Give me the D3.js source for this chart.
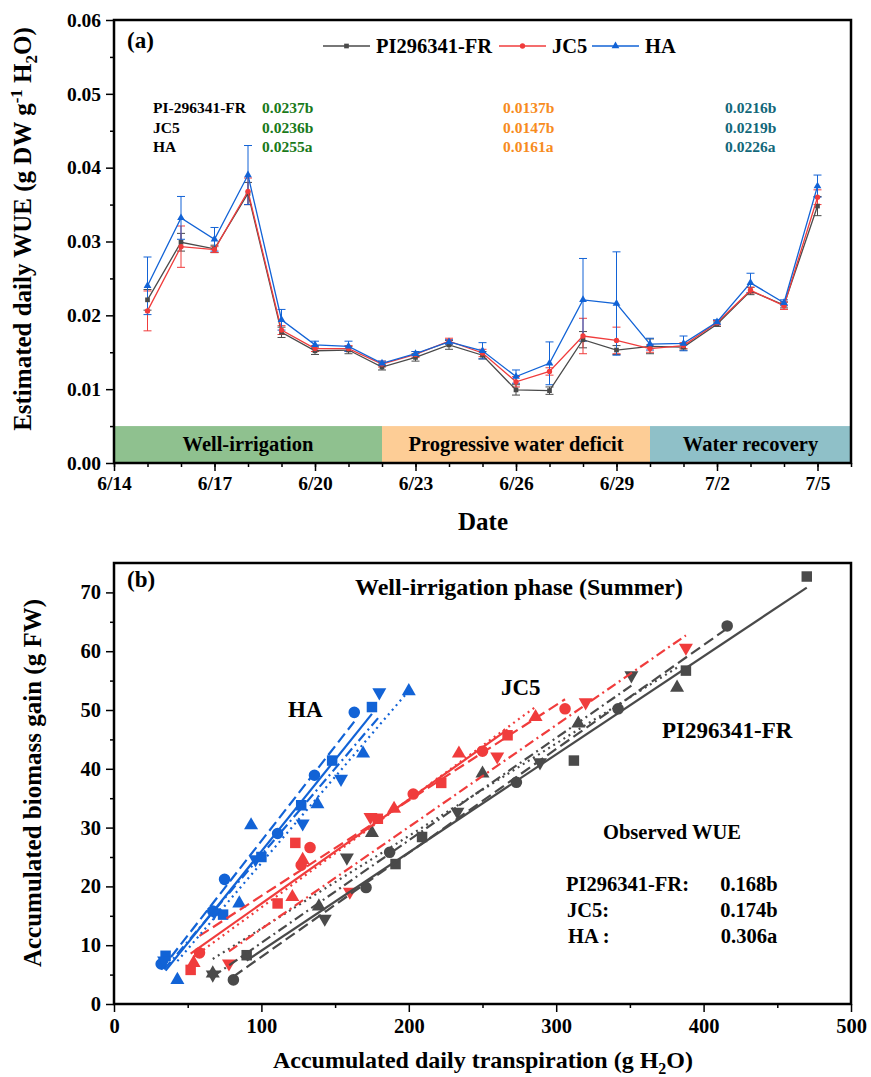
<!DOCTYPE html>
<html><head><meta charset="utf-8">
<script src="https://cdn.jsdelivr.net/npm/d3@7"></script>
<style>
body{margin:0;background:#fff}
svg{display:block}
text{font-family:"Liberation Serif","Times New Roman",serif;font-weight:bold;fill:#000}
</style>
</head><body>
<svg id="c" width="871" height="1077"></svg>
<script>
// ---------- Panel (a) data ----------
const dates = ["6/15","6/16","6/17","6/18","6/19","6/20","6/21","6/22","6/23","6/24","6/25","6/26","6/27","6/28","6/29","6/30","7/1","7/2","7/3","7/4","7/5"];
const piWUE  = [0.0221,0.0299,0.0290,0.0365,0.0177,0.0152,0.0153,0.0130,0.0143,0.0160,0.0146,0.0099,0.0098,0.0167,0.0153,0.0158,0.0157,0.0188,0.0233,0.0214,0.0348];
const jc5WUE = [0.0206,0.0293,0.0289,0.0368,0.0180,0.0155,0.0155,0.0134,0.0147,0.0165,0.0149,0.0110,0.0124,0.0172,0.0166,0.0155,0.0159,0.0190,0.0234,0.0213,0.0360];
const haWUE  = [0.0240,0.0332,0.0303,0.0390,0.0194,0.0160,0.0158,0.0135,0.0148,0.0164,0.0152,0.0117,0.0135,0.0221,0.0216,0.0161,0.0162,0.0191,0.0244,0.0217,0.0375];
const piErr  = [0.0014,0.0012,0.0005,0.0015,0.0007,0.0005,0.0005,0.0004,0.0005,0.0006,0.0005,0.0007,0.0005,0.0011,0.0006,0.0010,0.0004,0.0003,0.0005,0.0004,0.0013];
const jc5Err = [0.0027,0.0028,0.0004,0.0018,0.0006,0.0004,0.0004,0.0004,0.0004,0.0004,0.0005,0.0007,0.0005,0.0024,0.0018,0.0005,0.0004,0.0003,0.0004,0.0005,0.0010];
const haErr  = [0.0039,0.0029,0.0016,0.0040,0.0014,0.0005,0.0007,0.0003,0.0003,0.0003,0.0011,0.0009,0.0029,0.0056,0.0070,0.0008,0.0010,0.0003,0.0013,0.0004,0.0015];
const xTickLabelsA = ["6/14","6/17","6/20","6/23","6/26","6/29","7/2","7/5"];
const yTicksA = [0,0.01,0.02,0.03,0.04,0.05,0.06];
const phaseNames = ["Well-irrigation","Progressive water deficit","Water recovery"];
const phaseStart = ["6/14","6/22","6/30"];
const phaseEnd   = ["6/22","6/30","7/6"];
const phaseTop = 0.005;
const annotGenotypes = ["PI-296341-FR","JC5","HA"];
const annotWell     = ["0.0237b","0.0236b","0.0255a"];
const annotDeficit  = ["0.0137b","0.0147b","0.0161a"];
const annotRecovery = ["0.0216b","0.0219b","0.0226a"];
const legendNames = ["PI296341-FR","JC5","HA"];

// ---------- Panel (b) data (transpiration T, biomass B) ----------
const haSqT = [35,74,100,127,148,175],  haSqB = [8.2,15.2,25,33.8,41.4,50.5];
const haCiT = [32,67,75,111,136,163],   haCiB = [6.8,15.8,21.2,29,38.9,49.6];
const haUpT = [43,85,93,138,169,200],   haUpB = [4.1,17.1,30.4,34,42.6,53.2];
const haDnT = [34,68,96,128,154,180],   haDnB = [7.4,15.6,24.6,30.7,38.3,53];
const jc5SqT = [52,111,123,179,222,267], jc5SqB = [5.8,17.1,27.4,31.5,37.6,45.7];
const jc5CiT = [58,127,133,203,250,306], jc5CiB = [8.7,23.6,26.6,35.7,43,50.2];
const jc5UpT = [54,121,128,190,234,286], jc5UpB = [7,18.2,24.5,33.2,42.6,48.8];
const jc5DnT = [78,160,174,260,320,388], jc5DnB = [6.9,19.1,31.8,42.1,51.3,60.6];
const piSqT = [90,191,209,312,388,470],  piSqB = [8.3,23.8,28.4,41.4,56.7,72.7];
const piCiT = [81,171,187,273,342,416],  piCiB = [4.1,19.8,25.8,37.7,50.2,64.3];
const piUpT = [67,139,175,250,315,382],  piUpB = [5.2,16.6,29.1,39.2,47.7,53.8];
const piDnT = [67,143,158,233,289,351],  piDnB = [5.0,14.5,24.9,32.7,41.1,55.9];
const xTicksB = [0,100,200,300,400,500];
const yTicksB = [0,10,20,30,40,50,60,70];
const wueNames = ["PI296341-FR:","JC5:","HA :"];
const wueVals = ["0.168b","0.174b","0.306a"];

// ---------- styles ----------
const cGray = "#4a4a4a", cRed = "#f03c3c", cBlue = "#1263d6";
const svg = d3.select("#c");
const parseD = s => d3.utcParse("%Y/%m/%d")("2020/" + s);

// ================= Panel (a) =================
const xA = d3.scaleUtc().domain([parseD("6/14"), parseD("7/6")]).range([114, 851]);
const yA = d3.scaleLinear().domain([0, 0.06]).range([463, 20]);
const gA = svg.append("g");

// phase bands
const bandCols = ["#8fc18f","#fdcd96","#8fc0c8"];
phaseNames.forEach((n,i)=>{
  gA.append("rect").attr("x", xA(parseD(phaseStart[i]))).attr("y", yA(phaseTop))
    .attr("width", xA(parseD(phaseEnd[i])) - xA(parseD(phaseStart[i])))
    .attr("height", yA(0) - yA(phaseTop)).attr("fill", bandCols[i]);
  gA.append("text").attr("x", (xA(parseD(phaseStart[i])) + xA(parseD(phaseEnd[i])))/2)
    .attr("y", 451).attr("text-anchor","middle").attr("font-size", 20.5).text(n);
});

// axes
const majorA = xTickLabelsA.map(parseD);
const minorA = d3.utcDay.range(parseD("6/14"), parseD("7/7"));
gA.append("g").attr("transform","translate(0,463)")
  .call(d3.axisBottom(xA).tickValues(minorA).tickSize(4).tickFormat(""))
  .call(g=>g.select(".domain").remove());
gA.append("g").attr("transform","translate(0,463)")
  .call(d3.axisBottom(xA).tickValues(majorA).tickSize(8).tickPadding(5).tickFormat(d3.utcFormat("%-m/%-d")))
  .call(g=>g.selectAll("text").attr("font-size",19.5).style("font-family","Liberation Serif").style("font-weight","bold"))
  .call(g=>g.select(".domain").remove());
gA.append("g").attr("transform","translate(114,0)")
  .call(d3.axisLeft(yA).tickValues(d3.range(0.005,0.06,0.01)).tickSize(4).tickFormat(""))
  .call(g=>g.select(".domain").remove());
gA.append("g").attr("transform","translate(114,0)")
  .call(d3.axisLeft(yA).tickValues(yTicksA).tickSize(8).tickPadding(5).tickFormat(d3.format(".2f")))
  .call(g=>g.selectAll("text").attr("font-size",19.5).style("font-family","Liberation Serif").style("font-weight","bold"))
  .call(g=>g.select(".domain").remove());
gA.selectAll(".tick line").attr("stroke-width",1.5);
gA.append("rect").attr("x",114).attr("y",20).attr("width",737).attr("height",443)
  .attr("fill","none").attr("stroke","#000").attr("stroke-width",2.5);

// series
const seriesA = [
  {v: piWUE, e: piErr, c: cGray, sym: d3.symbolSquare, s: 22},
  {v: jc5WUE, e: jc5Err, c: cRed, sym: d3.symbolCircle, s: 22},
  {v: haWUE, e: haErr, c: cBlue, sym: d3.symbolTriangle, s: 26}
];
const dd = dates.map(parseD);
seriesA.forEach(S=>{
  const g = gA.append("g");
  dd.forEach((d,i)=>{
    const x = xA(d), y1 = yA(S.v[i]+S.e[i]), y0 = yA(S.v[i]-S.e[i]);
    g.append("line").attr("x1",x).attr("x2",x).attr("y1",y1).attr("y2",y0).attr("stroke",S.c).attr("stroke-width",1);
    [y1,y0].forEach(y=>g.append("line").attr("x1",x-4).attr("x2",x+4).attr("y1",y).attr("y2",y).attr("stroke",S.c).attr("stroke-width",1));
  });
});
seriesA.forEach(S=>{
  gA.append("path").datum(S.v).attr("fill","none").attr("stroke",S.c).attr("stroke-width",1.3)
    .attr("d", d3.line().x((v,i)=>xA(dd[i])).y(v=>yA(v)));
  gA.selectAll(null).data(S.v).enter().append("path")
    .attr("transform",(v,i)=>`translate(${xA(dd[i])},${yA(v)})`)
    .attr("d", d3.symbol().type(S.sym).size(S.s)).attr("fill",S.c);
});

// legend
const legX = [323, 499, 592];
legendNames.forEach((n,i)=>{
  const S = seriesA[i];
  gA.append("line").attr("x1",legX[i]).attr("x2",legX[i]+47).attr("y1",46).attr("y2",46).attr("stroke",S.c).attr("stroke-width",1.3);
  gA.append("path").attr("transform",`translate(${legX[i]+23.5},46)`).attr("d",d3.symbol().type(S.sym).size(S.s)).attr("fill",S.c);
  gA.append("text").attr("x",legX[i]+53).attr("y",53).attr("font-size",20.5).text(n);
});
gA.append("text").attr("x",127).attr("y",48).attr("font-size",23).text("(a)");

// annotations
const annRowsY = [113, 132.5, 152];
annotGenotypes.forEach((n,i)=>{
  gA.append("text").attr("x",153).attr("y",annRowsY[i]).attr("font-size",15.5).text(n);
  gA.append("text").attr("x",262).attr("y",annRowsY[i]).attr("font-size",15.5).style("fill","#1a7a1a").text(annotWell[i]);
  gA.append("text").attr("x",503).attr("y",annRowsY[i]).attr("font-size",15.5).style("fill","#f78c1e").text(annotDeficit[i]);
  gA.append("text").attr("x",725).attr("y",annRowsY[i]).attr("font-size",15.5).style("fill","#13687a").text(annotRecovery[i]);
});

// axis titles
const ytA = gA.append("text").attr("transform","translate(31,229) rotate(-90)").attr("text-anchor","middle").attr("font-size",25);
ytA.append("tspan").text("Estimated daily WUE (g DW g");
ytA.append("tspan").attr("dy",-9).attr("font-size",17).text("-1");
ytA.append("tspan").attr("dy",9).text(" H");
ytA.append("tspan").attr("dy",6).attr("font-size",17).text("2");
ytA.append("tspan").attr("dy",-6).text("O)");
gA.append("text").attr("x",483).attr("y",530).attr("text-anchor","middle").attr("font-size",25).text("Date");

// ================= Panel (b) =================
const xB = d3.scaleLinear().domain([0,500]).range([114,851]);
const yB = d3.scaleLinear().domain([0,75]).range([1004,563]);
const gB = svg.append("g");
gB.append("g").attr("transform","translate(0,1004)")
  .call(d3.axisBottom(xB).tickValues(d3.range(50,500,100)).tickSize(4).tickFormat(""))
  .call(g=>g.select(".domain").remove());
gB.append("g").attr("transform","translate(0,1004)")
  .call(d3.axisBottom(xB).tickValues(xTicksB).tickSize(8).tickPadding(6).tickFormat(d3.format("d")))
  .call(g=>g.selectAll("text").attr("font-size",20.5).style("font-family","Liberation Serif").style("font-weight","bold"))
  .call(g=>g.select(".domain").remove());
gB.append("g").attr("transform","translate(114,0)")
  .call(d3.axisLeft(yB).tickValues(d3.range(5,75,10)).tickSize(4).tickFormat(""))
  .call(g=>g.select(".domain").remove());
gB.append("g").attr("transform","translate(114,0)")
  .call(d3.axisLeft(yB).tickValues(yTicksB).tickSize(8).tickPadding(5).tickFormat(d3.format("d")))
  .call(g=>g.selectAll("text").attr("font-size",20.5).style("font-family","Liberation Serif").style("font-weight","bold"))
  .call(g=>g.select(".domain").remove());
gB.selectAll(".tick line").attr("stroke-width",1.5);
gB.append("rect").attr("x",114).attr("y",563).attr("width",737).attr("height",441)
  .attr("fill","none").attr("stroke","#000").attr("stroke-width",2.5);

const triDown = {draw(ctx, size){ const s = Math.sqrt(size/ (Math.sqrt(3)/4)); const h = s*Math.sqrt(3)/2;
  ctx.moveTo(0, h*2/3); ctx.lineTo(s/2, -h/3); ctx.lineTo(-s/2, -h/3); ctx.closePath(); }};
const triUp = {draw(ctx, size){ const s = Math.sqrt(size/ (Math.sqrt(3)/4)); const h = s*Math.sqrt(3)/2;
  ctx.moveTo(0, -h*2/3); ctx.lineTo(s/2, h/3); ctx.lineTo(-s/2, h/3); ctx.closePath(); }};
const plants = [
  {t: piSqT, b: piSqB, c: cGray, sym: d3.symbolSquare, s: 110, dash: null},
  {t: piCiT, b: piCiB, c: cGray, sym: d3.symbolCircle, s: 105, dash: "11,5"},
  {t: piUpT, b: piUpB, c: cGray, sym: triUp, s: 85, dash: "2,4"},
  {t: piDnT, b: piDnB, c: cGray, sym: triDown, s: 85, dash: "10,4,2,4"},
  {t: jc5SqT, b: jc5SqB, c: cRed, sym: d3.symbolSquare, s: 110, dash: null},
  {t: jc5CiT, b: jc5CiB, c: cRed, sym: d3.symbolCircle, s: 105, dash: "11,5"},
  {t: jc5UpT, b: jc5UpB, c: cRed, sym: triUp, s: 85, dash: "2,4"},
  {t: jc5DnT, b: jc5DnB, c: cRed, sym: triDown, s: 85, dash: "10,4,2,4"},
  {t: haSqT, b: haSqB, c: cBlue, sym: d3.symbolSquare, s: 110, dash: null},
  {t: haCiT, b: haCiB, c: cBlue, sym: d3.symbolCircle, s: 105, dash: "11,5"},
  {t: haUpT, b: haUpB, c: cBlue, sym: triUp, s: 85, dash: "2,4"},
  {t: haDnT, b: haDnB, c: cBlue, sym: triDown, s: 85, dash: "10,4,2,4"}
];
plants.forEach(P=>{
  P.t.forEach((t,i)=>{
    gB.append("path").attr("transform",`translate(${xB(t)},${yB(P.b[i])})`)
      .attr("d", d3.symbol().type(P.sym).size(P.s)).attr("fill",P.c);
  });
});
plants.forEach(P=>{
  const mx = d3.mean(P.t), my = d3.mean(P.b);
  const slope = d3.sum(P.t,(t,i)=>(t-mx)*(P.b[i]-my)) / d3.sum(P.t,t=>(t-mx)*(t-mx));
  const ic = my - slope*mx;
  const x0 = d3.min(P.t), x1 = d3.max(P.t);
  const ln = gB.append("line").attr("x1",xB(x0)).attr("y1",yB(ic+slope*x0)).attr("x2",xB(x1)).attr("y2",yB(ic+slope*x1))
    .attr("stroke",P.c).attr("stroke-width",2.2);
  if (P.dash) ln.attr("stroke-dasharray",P.dash);
});

gB.append("text").attr("x",127).attr("y",587).attr("font-size",23).text("(b)");
gB.append("text").attr("x",519).attr("y",595).attr("text-anchor","middle").attr("font-size",24).text("Well-irrigation phase (Summer)");
gB.append("text").attr("x",288).attr("y",717).attr("font-size",23).text("HA");
gB.append("text").attr("x",501).attr("y",695).attr("font-size",23).text("JC5");
gB.append("text").attr("x",662).attr("y",738).attr("font-size",23).text("PI296341-FR");
gB.append("text").attr("x",672).attr("y",839).attr("text-anchor","middle").attr("font-size",20.5).text("Observed WUE");
const wueY = [891, 917, 943], wueNX = [566, 567, 568];
wueNames.forEach((n,i)=>{
  gB.append("text").attr("x",wueNX[i]).attr("y",wueY[i]).attr("font-size",20.5).text(n);
  gB.append("text").attr("x",749).attr("y",wueY[i]).attr("text-anchor","middle").attr("font-size",20.5).text(wueVals[i]);
});
gB.append("text").attr("transform","translate(41,783) rotate(-90)").attr("text-anchor","middle").attr("font-size",25)
  .text("Accumulated biomass gain (g FW)");
const xtB = gB.append("text").attr("x",483).attr("y",1068).attr("text-anchor","middle").attr("font-size",24);
xtB.append("tspan").text("Accumulated daily transpiration (g H");
xtB.append("tspan").attr("dy",6).attr("font-size",16).text("2");
xtB.append("tspan").attr("dy",-6).text("O)");
</script>
</body></html>
